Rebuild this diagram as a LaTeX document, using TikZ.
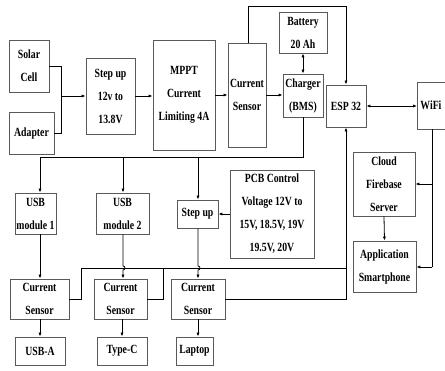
\documentclass[tikz,border=0pt]{standalone}
\usepackage{fontspec}
\newfontfamily\dfont{Liberation Serif}[FakeStretch=0.78]
\usetikzlibrary{arrows.meta}
\begin{document}
\begin{tikzpicture}[x=1pt,y=-1pt,
  box/.style={draw=black!65, line width=0.9pt, inner sep=0pt, align=center,
    font=\dfont\bfseries\fontsize{12.5}{23}\selectfont, text=black},
  ln/.style={draw=black, line width=0.8pt},
  ar/.style={ln, -{Latex[length=4pt,width=3.2pt]}},
  dar/.style={ln, {Latex[length=4pt,width=3.2pt]}-{Latex[length=4pt,width=3.2pt]}}]
\useasboundingbox (0,0) rectangle (445,371);
% nodes
\node[box, minimum width=40pt, minimum height=52pt] (solar) at (29,66) {Solar\\Cell};
\node[box, minimum width=45pt, minimum height=42pt] (adapter) at (31.5,133) {Adapter};
\node[box, minimum width=49pt, minimum height=76pt] (stepup) at (110.5,96) {Step up\\12v to\\13.8V};
\node[box, minimum width=62pt, minimum height=110pt] (mppt) at (184,95) {MPPT\\Current\\Limiting 4A};
\node[box, minimum width=38pt, minimum height=104pt] (cs) at (247,95) {Current\\Sensor};
\node[box, minimum width=48pt, minimum height=41pt] (battery) at (303,32.5) {Battery\\20 Ah};
\node[box, minimum width=40pt, minimum height=43pt] (charger) at (303,95.5) {Charger\\(BMS)};
\node[box, minimum width=40pt, minimum height=42pt] (esp) at (346,106) {ESP 32};
\node[box, minimum width=30pt, minimum height=47pt, anchor=west] (wifi) at (417,105.5) {\hspace*{-2pt}WiFi\hspace*{1pt}};
\node[box, minimum width=62pt, minimum height=64pt] (cloud) at (384,184) {Cloud\\Firebase\\Server};
\node[box, minimum width=63pt, minimum height=51pt] (app) at (384.5,266.5) {Application\\Smartphone};
\node[box, minimum width=84pt, minimum height=88pt] (pcb) at (272,214) {PCB Control\\Voltage 12V to\\15V, 18.5V, 19V\\19.5V, 20V};
\node[box, minimum width=41pt, minimum height=41pt] (usb1) at (35.5,213.5) {USB\\module 1};
\node[box, minimum width=53pt, minimum height=41pt] (usb2) at (122.5,213.5) {USB\\module 2};
\node[box, minimum width=41pt, minimum height=28pt] (stepup2) at (197.5,214) {Step up};
\node[box, minimum width=59pt, minimum height=40pt] (cs1) at (39.5,299) {Current\\Sensor};
\node[box, minimum width=53pt, minimum height=40pt] (cs2) at (120.5,299) {Current\\Sensor};
\node[box, minimum width=54pt, minimum height=40pt] (cs3) at (198,299) {Current\\Sensor};
\node[box, minimum width=50pt, minimum height=28pt] (usba) at (40,351) {USB-A};
\node[box, minimum width=50pt, minimum height=28pt] (typec) at (122,351) {Type-C};
\node[box, minimum width=37pt, minimum height=28pt] (laptop) at (194.5,351) {Laptop};
% coordinates
\coordinate (jn) at (61,96);
\coordinate (b1) at (40,157);
\coordinate (b2) at (123,157);
\coordinate (b3) at (198,157);
\coordinate (top) at (248,6);
\coordinate (f1) at (81,268);
\coordinate (f2) at (163,268);
\coordinate (f3) at (346,299);
\coordinate (fj) at (346,268);
\coordinate (w1) at (432,184);
\coordinate (w2) at (432,267);
% input chain
\draw[ln] (solar.east) -| (jn);
\draw[ln] (adapter.east) -| (jn);
\draw[ar] (jn) -- (stepup.west |- jn);
\draw[ar] (stepup.east) -- (mppt.west |- stepup.east);
\draw[ar] (mppt.east) -- (cs.west |- mppt.east);
\draw[ar] (cs.east) -- (charger.west |- cs.east);
\draw[dar] (battery.south) -- (charger.north);
\draw[ar] (cs.north -| top) -- (top) -| (esp.north);
\draw[dar] (esp.east) -- (wifi.west |- esp.east);
% wifi to cloud/app
\draw[ln] (wifi.south -| w1) -- (w2);
\draw[ar] (w1) -- (cloud.east |- w1);
\draw[ar] (w2) -- (app.east |- w2);
\draw[ar] (cloud.south) -- (app.north);
% bus from charger
\draw[ln] (charger.south) |- (b1);
\draw[ar] (b1) -- (usb1.north -| b1);
\draw[ar] (b2) -- (usb2.north -| b2);
\draw[ar] (b3) -- (stepup2.north -| b3);
\draw[ar] (pcb.west) -- (stepup2.east |- pcb.west);
% modules to sensors
\draw[ar] (usb1.south -| b1) -- (cs1.north -| b1);
\draw[ar] (usb2.south -| b2) -- (b2 |- 0,266) arc (-90:90:2) -- (cs2.north -| b2);
\draw[ar] (stepup2.south -| b3) -- (b3 |- 0,266) arc (-90:90:2) -- (cs3.north -| b3);
% sensors to outputs
\draw[ar] (cs1.south -| b1) -- (usba.north -| b1);
\draw[ar] (cs2.south -| typec) -- (typec.north);
\draw[ar] (cs3.south -| b3) -- (laptop.north -| b3);
% feedback to ESP32
\draw[ln] (cs1.east |- 0,299) -| (f1) -- (fj);
\draw[ln] (cs2.east |- 0,299) -| (f2);
\draw[ar] (cs3.east |- f3) -- (f3) -- (esp.south -| f3);
\end{tikzpicture}
\end{document}
